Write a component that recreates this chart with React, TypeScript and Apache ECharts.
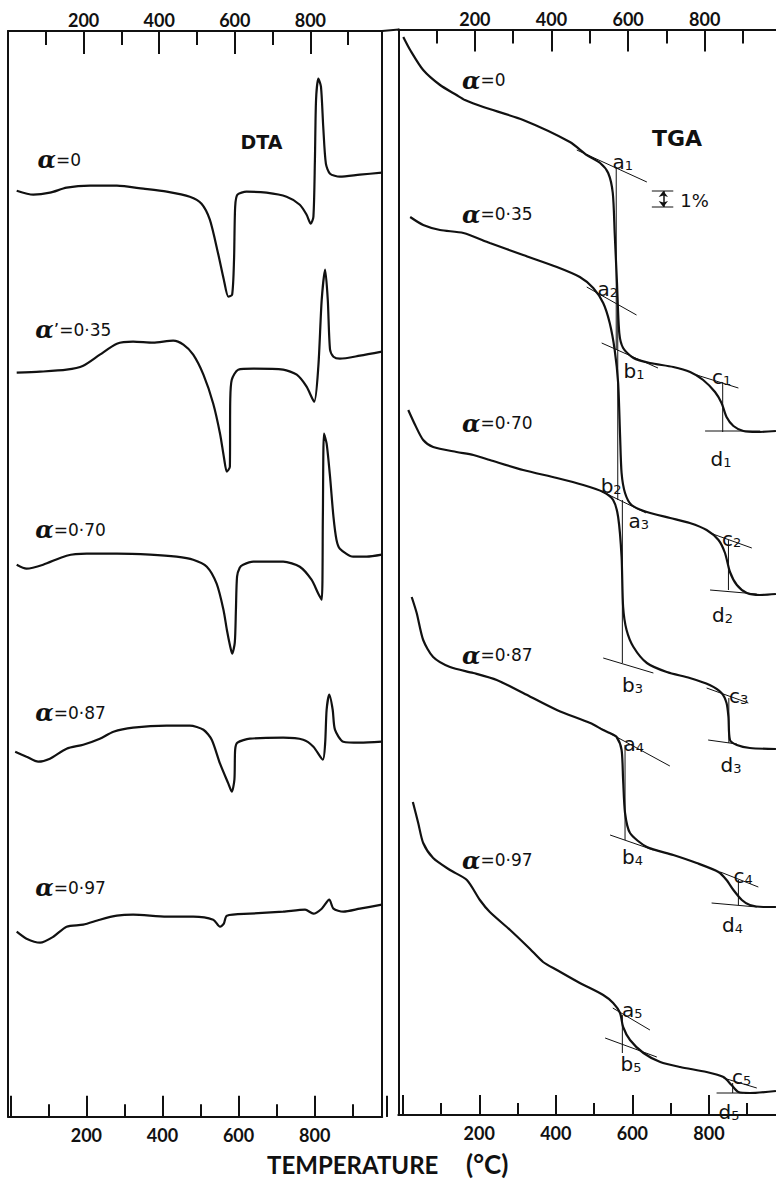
import React, { useEffect, useRef } from "react";
import * as echarts from "echarts";

const INK = "#111111";

// labelled temperature ticks (°C)
const labelledTicks = [200, 400, 600, 800];

// ---------- DTA traces: [temperature °C, trace height (arbitrary units)] ----------
const dtaA0 = [[23,926],[67,922],[111,924],[155,929],[217,931],[288,931],[358,928],[420,925],[481,920],[512,913],[534,897],[556,863],[571,837],[583,820],[593,822],[598,857],[601,910],[607,922],[631,925],[684,924],[737,920],[772,912],[790,902],[801,893],[808,900],[812,957],[815,1017],[821,1038],[828,1030],[834,990],[841,953],[852,943],[878,940],[931,942],[989,944]];
const dtaA35 = [[23,744],[85,745],[155,747],[199,751],[243,762],[288,773],[331,775],[384,774],[437,776],[464,772],[490,762],[517,742],[543,713],[561,683],[571,660],[579,645],[587,650],[588,717],[592,737],[609,747],[649,748],[728,747],[764,742],[790,730],[810,715],[821,750],[830,817],[839,847],[846,817],[852,767],[861,760],[878,758],[931,761],[989,765]];
const dtaA70 = [[23,552],[49,548],[93,552],[155,561],[208,563],[288,563],[376,562],[446,560],[490,557],[526,550],[552,533],[570,507],[579,487],[588,470],[593,463],[600,474],[603,507],[606,540],[613,549],[622,552],[649,555],[728,555],[772,550],[803,537],[821,523],[830,517],[833,600],[836,683],[843,673],[852,640],[861,600],[869,577],[878,568],[913,560],[949,560],[989,562]];
const dtaA87 = [[19,365],[49,360],[80,355],[111,358],[155,368],[199,372],[243,378],[279,385],[331,389],[420,391],[481,391],[517,387],[539,377],[561,353],[583,333],[592,325],[599,337],[601,367],[607,374],[640,378],[728,379],[781,377],[808,370],[833,357],[839,373],[843,407],[850,422],[859,407],[865,387],[887,375],[931,374],[989,375]];
const dtaA97 = [[23,185],[49,178],[85,174],[120,180],[155,190],[199,192],[243,197],[288,201],[331,202],[420,200],[490,200],[543,197],[561,190],[571,193],[579,201],[640,203],[728,205],[786,207],[808,203],[830,208],[850,217],[861,208],[887,205],[931,208],[989,212]];

// ---------- TGA traces: [temperature °C, weight trace (arbitrary units)] ----------
const tgaA0 = [[13,1078],[31,1065],[65,1045],[109,1030],[152,1020],[174,1015],[222,1008],[326,995],[448,973],[492,960],[527,952],[548,942],[560,922],[565,882],[571,832],[577,782],[587,767],[614,757],[657,752],[718,748],[762,743],[796,735],[827,723],[844,712],[857,698],[875,689],[901,684],[936,683],[986,684]];
const tgaA35 = [[31,898],[65,890],[109,885],[170,882],[239,872],[326,860],[414,848],[474,838],[509,827],[535,812],[552,792],[565,765],[574,732],[579,680],[583,642],[592,622],[609,610],[649,603],[710,597],[761,592],[805,585],[836,575],[853,562],[866,543],[884,530],[910,522],[944,520],[986,521]];
const tgaA70 = [[26,705],[44,690],[65,675],[91,668],[152,663],[196,660],[239,655],[326,645],[414,637],[483,630],[535,623],[561,615],[574,598],[583,558],[587,508],[596,485],[614,468],[649,452],[701,443],[761,437],[813,430],[844,422],[857,412],[862,398],[866,375],[884,370],[918,367],[986,366]];
const tgaA87 = [[35,518],[48,502],[65,475],[91,458],[135,448],[196,442],[257,435],[326,422],[414,405],[501,392],[535,385],[552,382],[570,378],[583,365],[587,335],[592,302],[605,282],[649,268],[718,260],[779,252],[836,243],[857,235],[875,225],[897,215],[918,210],[953,208],[986,208]];
const tgaA97 = [[38,313],[52,292],[65,272],[91,257],[135,245],[179,235],[213,215],[239,203],[292,185],[344,166],[378,153],[414,145],[474,132],[535,120],[561,112],[579,102],[587,88],[605,75],[640,62],[684,53],[736,48],[805,43],[849,38],[870,30],[888,23],[918,22],[986,24]];

// curve names
const dtaNameRest = ["=0", "ʼ=0·35", "=0·70", "=0·87", "=0·97"];
const dtaNamePos = [[77,957],[71,787],[71,587],[71,404],[71,229]];
const tgaNameRest = ["=0", "=0·35", "=0·70", "=0·87", "=0·97"];
const tgaNamePos = [[165,1035],[165,901],[165,692],[165,460],[165,255]];

// TGA construction points
const tgaPointLetters = ["a","a","b","c","d","b","a","c","d","b","c","d","a","b","c","d","a","b","c","d"];
const tgaPointIndex = ["1","2","1","1","1","2","3","2","2","3","3","3","4","4","4","4","5","5","5","5"];
const tgaPointPos = [[558,957],[519,830],[587,748],[818,742],[814,660],[527,633],[600,598],[844,580],[818,504],[583,434],[862,423],[840,354],[587,375],[583,262],[874,243],[844,194],[583,109],[579,55],[870,42],[835,7]];

// TGA tangent and construction lines
const tgaConstructionLines = [
  [[466,965],[649,933]], [[569,948],[569,765]],
  [[492,828],[622,800]], [[573,811],[573,615]],
  [[531,772],[678,747]], [[779,740],[888,727]], [[847,733],[847,683]], [[801,684],[945,684]],
  [[534,623],[647,602]], [[585,615],[585,452]], [[535,457],[666,442]],
  [[814,582],[923,567]], [[862,575],[862,525]], [[814,525],[936,521]],
  [[805,427],[914,412]], [[863,417],[863,372]], [[809,375],[884,371]],
  [[527,387],[709,349]], [[592,370],[592,275]], [[553,280],[666,265]],
  [[841,243],[940,228]], [[888,235],[888,210]], [[818,212],[936,208]],
  [[560,107],[657,85]], [[585,100],[585,62]], [[540,77],[675,58]],
  [[849,37],[936,27]], [[873,32],[873,22]], [[831,22],[901,22]],
];

// 1% scale bar
const scaleBarEnds = [[[662,924],[718,924]], [[662,908],[718,908]]];
const scaleBarArrow = [[692,924],[692,908]];
const scaleBarTextPos = [735, 915];
const dtaTitlePos = [614, 975];
const tgaTitlePos = [661, 977];

function tickAxis(gridIndex: number, position: string, max: number, interval: number, len: number, showLine: boolean, showLabel: boolean, margin: number) {
  return {
    type: "value",
    gridIndex,
    position,
    min: 0,
    max,
    interval,
    axisLine: { show: showLine, onZero: false, lineStyle: { color: INK, width: 2 } },
    axisTick: { show: len > 0, inside: true, length: len, lineStyle: { color: INK, width: 2 } },
    axisLabel: {
      show: showLabel,
      margin,
      formatter: (v: number) => (labelledTicks.includes(v) ? String(v) : ""),
      fontFamily: "Lato",
      fontWeight: "bold",
      fontSize: 18,
      color: INK,
    },
    splitLine: { show: false },
  };
}

function frameY(gridIndex: number, position: string, max: number, showLine: boolean) {
  return {
    type: "value",
    gridIndex,
    position,
    min: 0,
    max,
    axisLine: { show: showLine, onZero: false, lineStyle: { color: INK, width: 2 } },
    axisTick: { show: false },
    axisLabel: { show: false },
    splitLine: { show: false },
  };
}

const alphaRich = {
  al: { fontFamily: "DejaVu Serif", fontStyle: "italic", fontWeight: "bold", fontSize: 24, color: INK },
  n: { fontFamily: "DejaVu Sans", fontSize: 17, color: INK },
};
const subRich = {
  m: { fontFamily: "DejaVu Sans", fontSize: 20, color: INK, lineHeight: 20, padding: [0, 0, 7, 0], verticalAlign: "top" },
  s: { fontFamily: "DejaVu Sans", fontSize: 13, color: INK, lineHeight: 13, verticalAlign: "bottom" },
};

function curve(data: number[][], xi: number, yi: number) {
  return {
    type: "line",
    xAxisIndex: xi,
    yAxisIndex: yi,
    data,
    showSymbol: false,
    symbol: "none",
    smooth: 0.25,
    silent: true,
    lineStyle: { color: INK, width: 2.2 },
  };
}

function thin(data: number[][], xi: number, yi: number) {
  return {
    type: "line",
    xAxisIndex: xi,
    yAxisIndex: yi,
    data,
    showSymbol: false,
    symbol: "none",
    silent: true,
    lineStyle: { color: INK, width: 1 },
  };
}

function textSeries(xi: number, yi: number, data: any[], formatter: any, labelStyle: any, offset: number[]) {
  return {
    type: "scatter",
    xAxisIndex: xi,
    yAxisIndex: yi,
    symbolSize: 1,
    silent: true,
    itemStyle: { color: "rgba(0,0,0,0)", opacity: 1 },
    data,
    label: { show: true, position: "right", distance: 0, offset, formatter, color: INK, opacity: 1, ...labelStyle },
  };
}

export default function App() {
  const ref = useRef<HTMLDivElement>(null);
  useEffect(() => {
    if (!ref.current) return;
    const chart = echarts.init(ref.current, null, { renderer: "svg" });
    const LH = 1085.7;
    const RH = 1085.5;
    const option: any = {
      animation: false,
      backgroundColor: "#ffffff",
      textStyle: { fontFamily: "Lato", color: INK },
      title: [
        { text: "TEMPERATURE", left: 267, top: 1152, padding: 0, textStyle: { fontFamily: "Lato", fontWeight: "bold", fontSize: 24, color: INK } },
        { text: "(°C)", left: 466, top: 1151, padding: 0, textStyle: { fontFamily: "Lato", fontWeight: "bold", fontSize: 26, color: INK } },
      ],
      grid: [
        { left: 8, top: 31, width: 374.2, height: LH, outerBoundsMode: "none" },
        { left: 398.3, top: 29.5, width: 383, height: RH, outerBoundsMode: "none" },
        { left: 10.25, top: 31, width: 376.7, height: LH, outerBoundsMode: "none" },
        { left: 402.7, top: 29.5, width: 382.8, height: RH, outerBoundsMode: "none" },
      ],
      xAxis: [
        tickAxis(0, "top", 990, 100, 14, true, false, 2),
        tickAxis(0, "top", 990, 200, 23, false, true, 2),
        tickAxis(0, "bottom", 990, 100, 0, true, false, 2),
        tickAxis(1, "top", 1000, 100, 14, true, false, 2),
        tickAxis(1, "top", 1000, 200, 22, false, true, 2),
        tickAxis(1, "bottom", 1000, 100, 0, true, false, 2),
        tickAxis(2, "bottom", 990, 100, 12.5, false, false, 9),
        tickAxis(2, "bottom", 990, 200, 21, false, true, 9),
        tickAxis(3, "bottom", 1000, 100, 12, false, false, 9),
        tickAxis(3, "bottom", 1000, 200, 20, false, true, 9),
      ],
      yAxis: [
        frameY(0, "left", LH, true),
        frameY(0, "right", LH, true),
        frameY(1, "left", RH, true),
        frameY(2, "left", LH, false),
        frameY(3, "left", RH, false),
      ],
      graphic: [
        { type: "line", shape: { x1: 382, y1: 31, x2: 399, y2: 29.5 }, style: { stroke: INK, lineWidth: 2 } },
      ],
      series: [
        curve(dtaA0, 0, 0),
        curve(dtaA35, 0, 0),
        curve(dtaA70, 0, 0),
        curve(dtaA87, 0, 0),
        curve(dtaA97, 0, 0),
        curve(tgaA0, 3, 2),
        curve(tgaA35, 3, 2),
        curve(tgaA70, 3, 2),
        curve(tgaA87, 3, 2),
        curve(tgaA97, 3, 2),
        ...tgaConstructionLines.map((seg) => thin(seg, 3, 2)),
        ...scaleBarEnds.map((seg) => thin(seg, 3, 2)),
        {
          type: "line",
          xAxisIndex: 3,
          yAxisIndex: 2,
          data: [],
          symbol: "none",
          silent: true,
          markLine: {
            silent: true,
            symbol: ["arrow", "arrow"],
            symbolSize: [7, 6],
            label: { show: false },
            lineStyle: { type: "solid", color: INK, width: 1.5 },
            itemStyle: { color: INK },
            data: [[{ coord: scaleBarArrow[0] }, { coord: scaleBarArrow[1] }]],
          },
        },
        textSeries(0, 0, dtaNamePos.map((p, i) => ({ value: p, rest: dtaNameRest[i] })), (p: any) => `{al|α}{n|${p.data.rest}}`, { rich: alphaRich }, [0, 0]),
        textSeries(3, 2, tgaNamePos.map((p, i) => ({ value: p, rest: tgaNameRest[i] })), (p: any) => `{al|α}{n|${p.data.rest}}`, { rich: alphaRich }, [0, 0]),
        textSeries(3, 2, tgaPointPos.map((p, i) => ({ value: p, l: tgaPointLetters[i], k: tgaPointIndex[i] })), (p: any) => `{m|${p.data.l}}{s|${p.data.k}}`, { rich: subRich }, [0, 3.5]),
        textSeries(0, 0, [{ value: dtaTitlePos, t: "DTA" }], (p: any) => p.data.t, { fontFamily: "DejaVu Sans", fontWeight: "bold", fontSize: 19 }, [0, 0]),
        textSeries(3, 2, [{ value: tgaTitlePos, t: "TGA" }], (p: any) => p.data.t, { fontFamily: "DejaVu Sans", fontWeight: "bold", fontSize: 22 }, [0, 0]),
        textSeries(3, 2, [{ value: scaleBarTextPos, t: "1%" }], (p: any) => p.data.t, { fontFamily: "DejaVu Sans", fontSize: 18 }, [0, 0]),
      ],
    };
    chart.setOption(option);
    return () => chart.dispose();
  }, []);
  return (
    <div style={{ position: "absolute", left: 0, top: 0, width: 776, height: 1181, overflow: "hidden", background: "#fff" }}>
      <div ref={ref} style={{ width: 800, height: 1181 }} />
    </div>
  );
}
